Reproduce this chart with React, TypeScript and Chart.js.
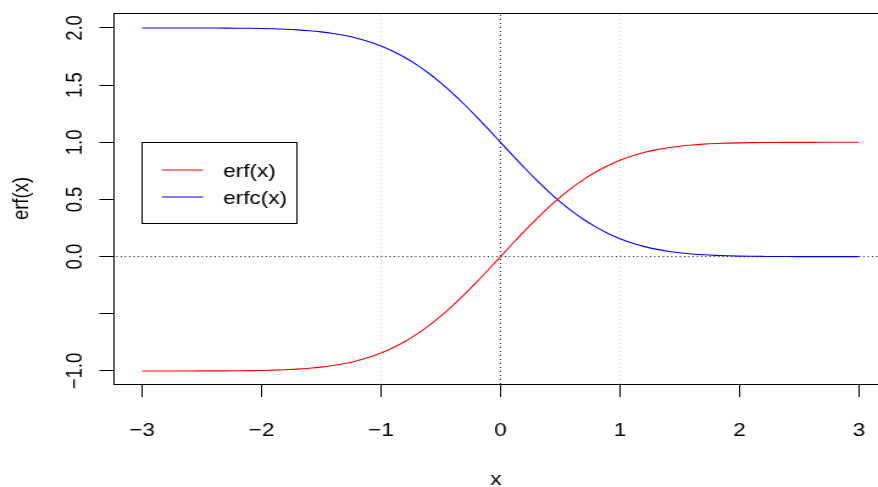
import React, { useEffect, useRef } from "react";
import { Chart, registerables } from "chart.js";

Chart.register(...registerables);

const xValues = [
  -3.0, -2.9, -2.8, -2.7, -2.6, -2.5, -2.4, -2.3, -2.2, -2.1,
  -2.0, -1.9, -1.8, -1.7, -1.6, -1.5, -1.4, -1.3, -1.2, -1.1,
  -1.0, -0.9, -0.8, -0.7, -0.6, -0.5, -0.4, -0.3, -0.2, -0.1,
  0.0, 0.1, 0.2, 0.3, 0.4, 0.5, 0.6, 0.7, 0.8, 0.9,
  1.0, 1.1, 1.2, 1.3, 1.4, 1.5, 1.6, 1.7, 1.8, 1.9,
  2.0, 2.1, 2.2, 2.3, 2.4, 2.5, 2.6, 2.7, 2.8, 2.9, 3.0,
];

const erfValues = [
  -1.0, -1.0, -0.9999, -0.9999, -0.9998, -0.9996, -0.9993, -0.9989, -0.9981, -0.997,
  -0.9953, -0.9928, -0.9891, -0.9838, -0.9763, -0.9661, -0.9523, -0.934, -0.9103, -0.8802,
  -0.8427, -0.7969, -0.7421, -0.6778, -0.6039, -0.5205, -0.4284, -0.3286, -0.2227, -0.1125,
  0.0, 0.1125, 0.2227, 0.3286, 0.4284, 0.5205, 0.6039, 0.6778, 0.7421, 0.7969,
  0.8427, 0.8802, 0.9103, 0.934, 0.9523, 0.9661, 0.9763, 0.9838, 0.9891, 0.9928,
  0.9953, 0.997, 0.9981, 0.9989, 0.9993, 0.9996, 0.9998, 0.9999, 0.9999, 1.0, 1.0,
];

const erfcValues = [
  2.0, 2.0, 1.9999, 1.9999, 1.9998, 1.9996, 1.9993, 1.9989, 1.9981, 1.997,
  1.9953, 1.9928, 1.9891, 1.9838, 1.9763, 1.9661, 1.9523, 1.934, 1.9103, 1.8802,
  1.8427, 1.7969, 1.7421, 1.6778, 1.6039, 1.5205, 1.4284, 1.3286, 1.2227, 1.1125,
  1.0, 0.8875, 0.7773, 0.6714, 0.5716, 0.4795, 0.3961, 0.3222, 0.2579, 0.2031,
  0.1573, 0.1198, 0.0897, 0.066, 0.0477, 0.0339, 0.0237, 0.0162, 0.0109, 0.0072,
  0.0047, 0.003, 0.0019, 0.0011, 0.0007, 0.0004, 0.0002, 0.0001, 0.0001, 0.0, 0.0,
];

const seriesLabels = ["erf(x)", "erfc(x)"];
const seriesColors = ["#FF0000", "#0000FF"];

const xTicks = [-3, -2, -1, 0, 1, 2, 3];
const xTickLabels = ["\u22123", "\u22122", "\u22121", "0", "1", "2", "3"];
const yTicks = [-1, -0.5, 0, 0.5, 1, 1.5, 2];
const yTickLabels = ["\u22121.0", "", "0.0", "0.5", "1.0", "1.5", "2.0"];

const greyGuideX = [-1, 1];
const blackGuideX = [0];
const blackGuideY = [0];
const legendAnchor = { x: -3, y: 1 };

// The reference is horizontally stretched: draw at 720 wide, show at 878.
const DRAW_W = 720;
const DRAW_H = 487;
const SHOW_W = 878;

const FONT_FAMILY = "'Liberation Sans', Arial, Helvetica, sans-serif";
const FONT = { family: FONT_FAMILY, size: 18.5 };

export default function App() {
  const canvasRef = useRef<HTMLCanvasElement | null>(null);

  useEffect(() => {
    const canvas = canvasRef.current;
    if (!canvas) return;

    const vLine = (x: number, color: string) => ({
      label: "guide",
      data: [
        { x, y: -10 },
        { x, y: 10 },
      ],
      borderColor: color,
      borderWidth: 1,
      borderDash: [1, 3],
      pointRadius: 0,
      fill: false,
      order: 5,
    });
    const hLine = (y: number, color: string) => ({
      label: "guide",
      data: [
        { x: -10, y },
        { x: 10, y },
      ],
      borderColor: color,
      borderWidth: 1,
      borderDash: [1, 2.5],
      pointRadius: 0,
      fill: false,
      order: 5,
    });

    const curveSets = [erfValues, erfcValues].map((vals, i) => ({
      label: seriesLabels[i],
      data: xValues.map((x, j) => ({ x, y: vals[j] })),
      borderColor: seriesColors[i],
      borderWidth: 1.1,
      pointRadius: 0,
      fill: false,
      cubicInterpolationMode: "monotone" as const,
      order: 1,
    }));

    const guideSets = [
      ...greyGuideX.map((x) => vLine(x, "#D3D3D3")),
      ...blackGuideX.map((x) => vLine(x, "#000000")),
      ...blackGuideY.map((y) => hLine(y, "#000000")),
    ];

    const zeroPad = (s: any) => {
      s.paddingTop = 0;
      s.paddingBottom = 0;
      s.paddingLeft = 0;
      s.paddingRight = 0;
    };

    const framePlugin = {
      id: "frameAndLegend",
      afterDraw(chart: any) {
        const ctx = chart.ctx as CanvasRenderingContext2D;
        const a = chart.chartArea;
        ctx.save();
        ctx.strokeStyle = "#000";
        ctx.lineWidth = 1;
        ctx.setLineDash([]);
        ctx.strokeRect(
          Math.round(a.left) + 0.5,
          Math.round(a.top) + 0.5,
          Math.round(a.right - a.left) + 4,
          Math.round(a.bottom - a.top)
        );

        const xs = chart.scales.x;
        const ys = chart.scales.y;
        const lx = Math.round(xs.getPixelForValue(legendAnchor.x)) + 0.5;
        const ly = Math.round(ys.getPixelForValue(legendAnchor.y)) + 0.5;
        const w = 127;
        const h = 81;
        ctx.fillStyle = "#fff";
        ctx.fillRect(lx, ly, w, h);
        ctx.strokeRect(lx, ly, w, h);
        ctx.font = `${FONT.size}px ${FONT_FAMILY}`;
        ctx.textBaseline = "middle";
        ctx.textAlign = "left";
        seriesLabels.forEach((lab, i) => {
          const yy = Math.round(ly + 27 + i * 27);
          ctx.strokeStyle = seriesColors[i];
          ctx.lineWidth = 1.1;
          ctx.beginPath();
          ctx.moveTo(lx + 16.5, yy);
          ctx.lineTo(lx + 50, yy);
          ctx.stroke();
          ctx.fillStyle = "#000";
          ctx.fillText(lab, lx + 66.5, yy + 1.5);
        });
        ctx.restore();
      },
    };

    const chart = new Chart(canvas, {
      type: "line",
      data: { datasets: [...curveSets, ...guideSets] as any },
      options: {
        animation: false,
        responsive: false,
        devicePixelRatio: 1,
        layout: { padding: { top: 13, left: 0, right: 0, bottom: 0 } },
        plugins: {
          legend: { display: false },
          tooltip: { enabled: false },
        },
        elements: { line: { tension: 0 } },
        scales: {
          x: {
            type: "linear",
            min: -3.239,
            max: 3.159,
            afterBuildTicks: (s: any) => {
              s.ticks = xTicks.map((v) => ({ value: v }));
            },
            afterFit: (s: any) => {
              s.height = 103;
              zeroPad(s);
            },
            ticks: {
              callback: (_v: any, i: number) => xTickLabels[i],
              minRotation: 0,
              maxRotation: 0,
              padding: 23,
              color: "#000",
              font: FONT,
            },
            grid: {
              drawOnChartArea: false,
              drawTicks: true,
              tickLength: 13,
              color: "#000",
              tickColor: "#000",
              lineWidth: 1,
            },
            border: { display: false },
            title: {
              display: true,
              text: "x",
              color: "#000",
              font: FONT,
              padding: { top: 0, bottom: -4 },
            },
          },
          y: {
            type: "linear",
            min: -1.114,
            max: 2.131,
            afterBuildTicks: (s: any) => {
              s.ticks = yTicks.map((v) => ({ value: v }));
            },
            afterFit: (s: any) => {
              s.width = 93;
              zeroPad(s);
            },
            ticks: {
              callback: (_v: any, i: number) => yTickLabels[i],
              minRotation: 90,
              maxRotation: 90,
              crossAlign: "center",
              padding: 1,
              color: "#000",
              font: FONT,
            },
            grid: {
              drawOnChartArea: false,
              drawTicks: true,
              tickLength: 11.5,
              color: "#000",
              tickColor: "#000",
              lineWidth: 1,
            },
            border: { display: false },
            title: {
              display: true,
              text: "erf(x)",
              color: "#000",
              font: FONT,
              padding: { top: 7, bottom: 0 },
            },
          },
        },
      },
      plugins: [framePlugin],
    });

    return () => {
      chart.destroy();
    };
  }, []);

  return (
    <div
      style={{
        position: "absolute",
        left: 0,
        top: 0,
        width: DRAW_W,
        height: DRAW_H,
        transform: `scale(${SHOW_W / DRAW_W}, 1)`,
        transformOrigin: "0 0",
      }}
    >
      <canvas
        ref={canvasRef}
        width={DRAW_W}
        height={DRAW_H}
        style={{ display: "block", width: DRAW_W, height: DRAW_H }}
      />
    </div>
  );
}
